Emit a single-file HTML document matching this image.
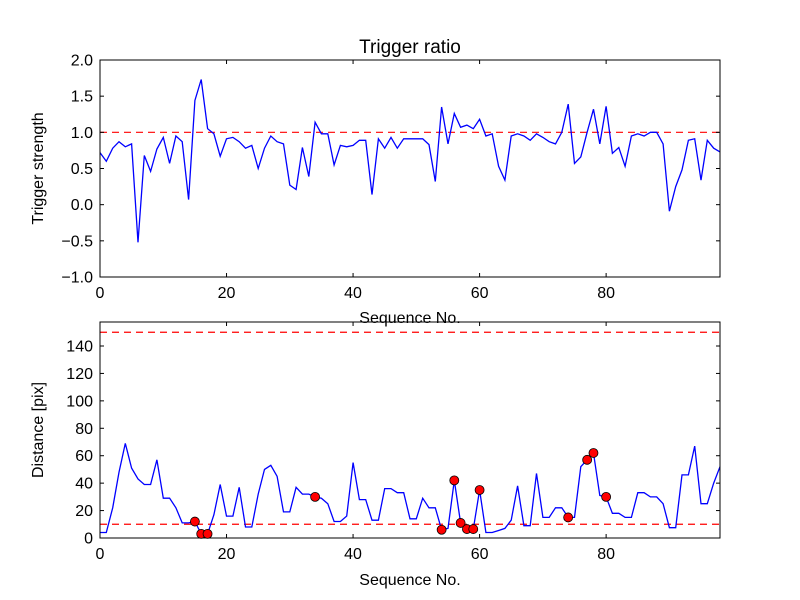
<!DOCTYPE html>
<html><head><meta charset="utf-8"><style>
html,body{margin:0;padding:0;background:#fff;}
svg{display:block;font-family:"Liberation Sans","DejaVu Sans",sans-serif;}
</style></head><body>
<svg id="chart" width="800" height="600" viewBox="0 0 800 600">
<rect width="800" height="600" fill="#fff"/>
<g id="top"></g><g id="bot"></g>
</svg>
<script>
const strength = [0.72,0.60,0.78,0.87,0.80,0.84,-0.52,0.68,0.46,0.77,0.93,0.57,0.95,0.87,0.07,1.44,1.73,1.05,0.98,0.67,0.91,0.93,0.87,0.78,0.82,0.50,0.78,0.95,0.87,0.84,0.27,0.21,0.79,0.39,1.14,0.98,0.98,0.55,0.82,0.80,0.82,0.89,0.89,0.14,0.91,0.78,0.93,0.78,0.91,0.91,0.91,0.91,0.83,0.32,1.35,0.84,1.26,1.07,1.10,1.05,1.18,0.95,0.98,0.53,0.34,0.95,0.98,0.95,0.89,0.98,0.93,0.87,0.84,1.00,1.39,0.57,0.66,1.00,1.32,0.84,1.36,0.71,0.79,0.53,0.95,0.98,0.95,1.00,1.00,0.84,-0.09,0.25,0.48,0.89,0.91,0.34,0.89,0.78,0.73];
const distance = [4,4,22,48,69,51,43,39,39,57,29,29,22,11,11,12,3,3,17,39,16,16,37,8,8,32,50,53,45,19,19,37,32,32,30,29,25,12,12,16,55,28,28,13,13,36,36,33,33,14,14,29,22,22,6,7,42,11,6.5,6.5,35,4,4,5.5,7,13,38,9,9,47,15,15,22,22,15,15,52,57,62,31,30,18,18,15,15,33,33,30,30,25,7.5,7.5,46,46,67,25,25,40,52];
const flagged = [15,16,17,34,54,56,57,58,59,60,74,77,78,80];
const topYTicks = [-1.0,-0.5,0.0,0.5,1.0,1.5,2.0];
const botYTicks = [0,20,40,60,80,100,120,140];
const xTicks = [0,20,40,60,80];
const topThreshold = [1.0];
const botThresholds = [10,150];

const NS="http://www.w3.org/2000/svg";
const L=100,R=720,XMAX=98;
const sx=v=>L+(R-L)*v/XMAX;
function mk(p,tag,a){const e=document.createElementNS(NS,tag);for(const k in a)e.setAttribute(k,a[k]);p.appendChild(e);return e;}
function fmt(v,d){const s=Math.abs(v).toFixed(d);return (v<0?"\u2212":"")+s;}

function panel(g,T,B,ymin,ymax,yt,dec,data,thr,ylabel,xlabelY,name){
  const sy=v=>B-(B-T)*(v-ymin)/(ymax-ymin);
  thr.forEach(t=>{const l=mk(g,'line',{x1:L,x2:R,y1:sy(t),y2:sy(t),stroke:'#f00','stroke-width':1.2,'stroke-dasharray':'7,5'});
    
    });
  const pts=data.map((v,i)=>sx(i).toFixed(1)+','+sy(v).toFixed(1)).join(' ');
  const pl=mk(g,'polyline',{points:pts,fill:'none',stroke:'#00f','stroke-width':1.3});
  
  
  const fr=mk(g,'rect',{x:L,y:T,width:R-L,height:B-T,fill:'none',stroke:'#000','stroke-width':1});
  
  
  yt.forEach(v=>{const y=sy(v);
    mk(g,'line',{x1:L,x2:L+4,y1:y,y2:y,stroke:'#000'});mk(g,'line',{x1:R-4,x2:R,y1:y,y2:y,stroke:'#000'});
    const t=mk(g,'text',{x:L-7,y:y+5.5,'text-anchor':'end','font-size':16});t.textContent=fmt(v,dec);
    
    });
  xTicks.forEach(v=>{const x=sx(v);
    mk(g,'line',{x1:x,x2:x,y1:B,y2:B-4,stroke:'#000'});mk(g,'line',{x1:x,x2:x,y1:T,y2:T+4,stroke:'#000'});
    const t=mk(g,'text',{x:x,y:B+21,'text-anchor':'middle','font-size':16});t.textContent=v;
    
    });
  const yl=mk(g,'text',{x:0,y:0,'text-anchor':'middle','font-size':16,transform:`translate(43,${(T+B)/2}) rotate(-90)`});yl.textContent=ylabel;
  
  
  const xl=mk(g,'text',{x:(L+R)/2,y:xlabelY,'text-anchor':'middle','font-size':16});xl.textContent='Sequence No.';
  
  
  return sy;
}
const gt=document.getElementById('top'),gb=document.getElementById('bot');
panel(gt,60,277,-1,2,topYTicks,1,strength,topThreshold,'Trigger strength',323,'top');
const sy2=panel(gb,322,538,0,157.5,botYTicks,0,distance,botThresholds,'Distance [pix]',585,'bottom');
flagged.forEach(i=>{const c=mk(gb,'circle',{cx:sx(i),cy:sy2(distance[i]),r:4.5,fill:'#f00',stroke:'#000','stroke-width':0.8});
  
  });
const tt=mk(gt,'text',{x:410,y:53,'text-anchor':'middle','font-size':19});tt.textContent='Trigger ratio';


</script>
</body></html>
